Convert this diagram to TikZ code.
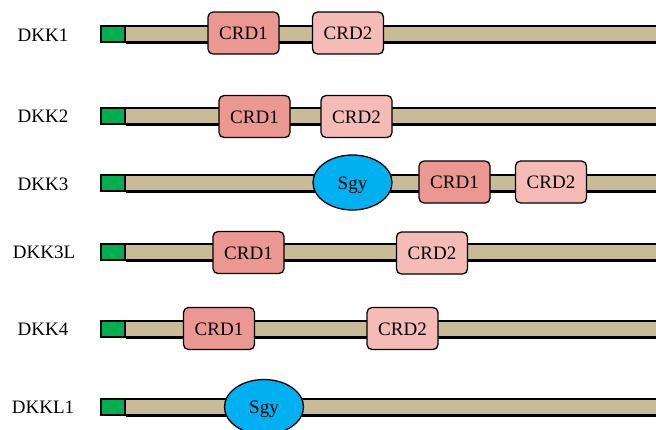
\documentclass[tikz,border=0pt]{standalone}
\usepackage{fontspec}
\setmainfont{Liberation Serif}
\usetikzlibrary{shapes.geometric}
\definecolor{sigpep}{RGB}{0,176,80}
\definecolor{chain}{RGB}{200,188,150}
\definecolor{crdone}{RGB}{235,152,147}
\definecolor{crdtwo}{RGB}{245,187,182}
\definecolor{sgyblue}{RGB}{0,176,240}
\tikzset{
  every node/.style={font=\fontsize{19}{22}\selectfont, text height=13pt, text depth=0pt},
  protname/.style={inner sep=0pt},
  signal/.style={draw=black, fill=sigpep, line width=1.8pt, minimum width=24pt, minimum height=16pt, inner sep=0pt, anchor=west},
  crdA/.style={draw=black, fill=crdone, line width=1.3pt, rounded corners=5pt, minimum width=71pt, minimum height=42pt, inner sep=0pt},
  crdB/.style={crdA, fill=crdtwo},
  sgy/.style={ellipse, draw=black, fill=sgyblue, line width=1.3pt, minimum width=79pt, minimum height=55pt, inner sep=0pt},
  outline/.style={draw=black, line width=19pt, line cap=butt},
  core/.style={draw=chain, line width=14.5pt, line cap=butt},
}
\newcommand{\chainrow}[2]{%
  % #1 = row name, #2 = vertical position
  \node[signal] (#1-sq) at (100,#2) {};
  \coordinate (#1-end) at (670,#2);
  \draw[outline] (#1-sq.east) -- (#1-end);
  \draw[core] (#1-sq.east) -- (#1-end);
  \node[signal] at (100,#2) {};
}
\begin{document}
\begin{tikzpicture}[x=1pt,y=-1pt]
\useasboundingbox (0,0) rectangle (656,429);
\clip (0,0) rectangle (656,429);

% protein backbones with signal peptides
\chainrow{r1}{34}
\chainrow{r2}{116}
\chainrow{r3}{183}
\chainrow{r4}{252}
\chainrow{r5}{329}
\chainrow{r6}{407}

% names
\node[protname] (n1) at (43,35) {DKK1};
\node[protname] (n2) at (43,116) {DKK2};
\node[protname] (n3) at (43,184) {DKK3};
\node[protname] (n4) at (44,252) {DKK3L};
\node[protname] (n5) at (43,329) {DKK4};
\node[protname] (n6) at (43,407) {DKKL1};

% domains
\node[crdA] (d1a) at (243.5,33) {CRD1};
\node[crdB] (d1b) at (348,33) {CRD2};

\node[crdA] (d2a) at (254.5,116.5) {CRD1};
\node[crdB] (d2b) at (356.5,116.5) {CRD2};

\node[sgy]  (d3s) at (352.5,182.5) {Sgy};
\node[crdA] (d3a) at (454.5,182) {CRD1};
\node[crdB] (d3b) at (551,182) {CRD2};

\node[crdA] (d4a) at (248.5,252.5) {CRD1};
\node[crdB] (d4b) at (432,253) {CRD2};

\node[crdA] (d5a) at (219,328.5) {CRD1};
\node[crdB] (d5b) at (402.5,328.5) {CRD2};

\node[sgy]  (d6s) at (264,407) {Sgy};
\end{tikzpicture}
\end{document}
